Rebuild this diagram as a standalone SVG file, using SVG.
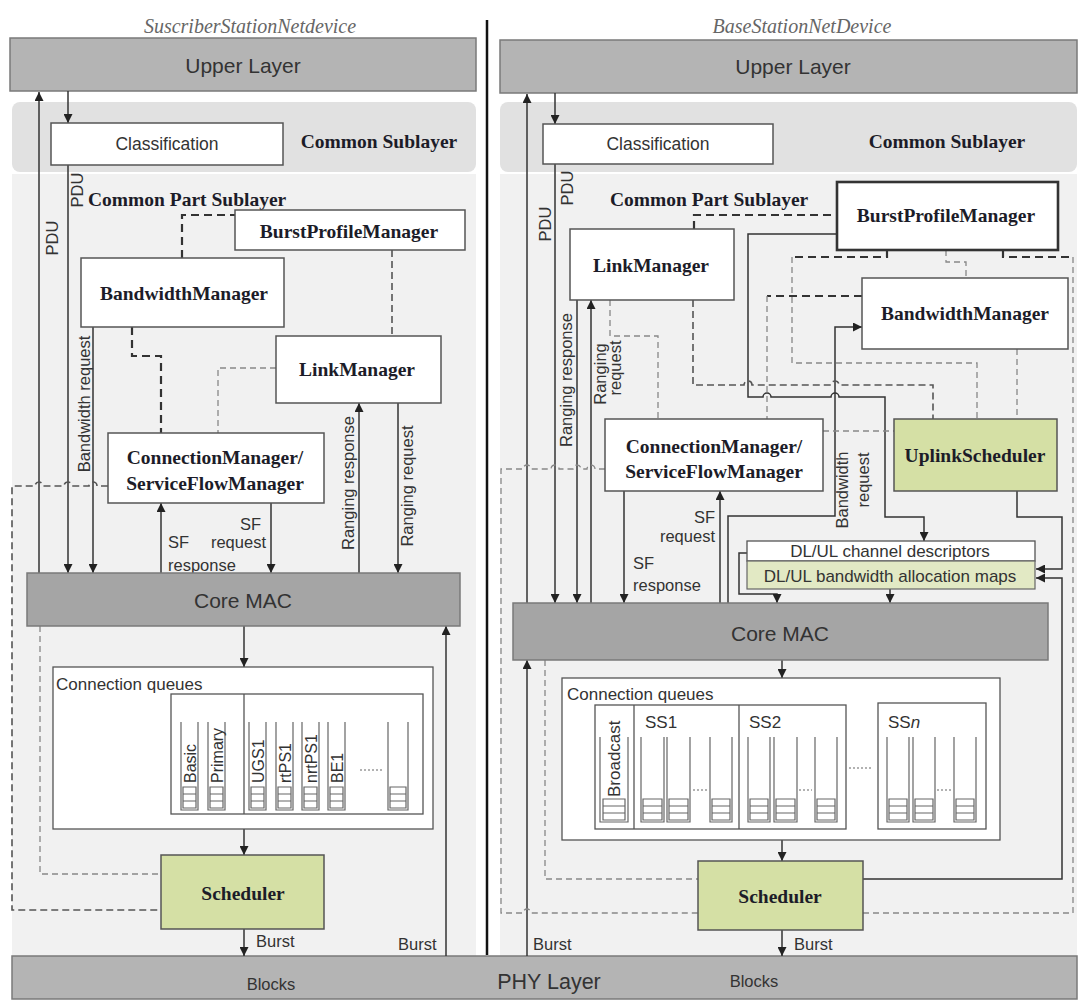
<svg xmlns="http://www.w3.org/2000/svg" width="1079" height="1001" viewBox="0 0 1079 1001">
<style>
.bg{fill:#f1f1f1}
.band{fill:#e1e1e1}
.layer{fill:#b4b4b4;stroke:#7a7a7a;stroke-width:1.5}
.core{fill:#a5a5a5;stroke:#7a7a7a;stroke-width:1.5}
.box{fill:#fff;stroke:#555;stroke-width:1.5}
.thick{fill:#fff;stroke:#333;stroke-width:2.6}
.green{fill:#d5e0a5;stroke:#555;stroke-width:1.5}
.pale{fill:#e2e9c4;stroke:#666;stroke-width:1.2}
.frame{fill:#fff;stroke:#555;stroke-width:1.3}
.q{fill:none;stroke:#666;stroke-width:1.2}
.b{font-family:"Liberation Serif","Times New Roman",serif;font-weight:bold;font-size:19.5px;fill:#1c1c28;text-anchor:middle;dominant-baseline:central}
.b.start{text-anchor:start}
.s{font-family:"Liberation Sans",Arial,sans-serif;fill:#333;dominant-baseline:central}
.big{font-size:21px;text-anchor:middle}
.mid{font-size:17.5px;text-anchor:middle}
.sm{font-size:17px}
.lbl{font-size:16.5px}
.ql{font-size:16px}
.ttl{font-family:"Liberation Serif","Times New Roman",serif;font-style:italic;font-size:20px;fill:#666;text-anchor:middle;dominant-baseline:central}
.ln{fill:none;stroke:#333;stroke-width:1.5}
.ar{marker-end:url(#ah)}
.dh{fill:none;stroke:#333;stroke-width:2.2;stroke-dasharray:8 5}
.dm{fill:none;stroke:#555;stroke-width:1.6;stroke-dasharray:7 4}
.dl{fill:none;stroke:#888;stroke-width:1.3;stroke-dasharray:6 4}
.dots{fill:none;stroke:#666;stroke-width:1.2;stroke-dasharray:2 2}
</style>
<defs>
<marker id="ah" viewBox="0 0 10 10" refX="10" refY="5" markerWidth="9" markerHeight="9" markerUnits="userSpaceOnUse" orient="auto"><path d="M0,0 L10,5 L0,10 z" fill="#222"/></marker>
</defs>

<!-- panel backgrounds -->
<rect x="0" y="0" width="1079" height="1001" fill="#fff"/>
<rect class="bg" x="12" y="174" width="464" height="782"/>
<rect class="bg" x="500" y="174" width="577" height="782"/>
<rect class="band" x="12" y="102" width="464" height="70" rx="8"/>
<rect class="band" x="500" y="102" width="577" height="70" rx="8"/>

<!-- device titles -->
<text class="ttl" x="250" y="26">SuscriberStationNetdevice</text>
<text class="ttl" x="802" y="26">BaseStationNetDevice</text>

<!-- layer bands -->
<g id="ss-upper"><rect class="layer" x="10" y="38" width="466" height="53"/><text class="s big" x="243" y="65">Upper Layer</text></g>
<g id="bs-upper"><rect class="layer" x="500" y="40" width="577" height="53"/><text class="s big" x="793" y="66">Upper Layer</text></g>
<g id="phy"><rect class="layer" x="12" y="956" width="1065" height="43"/>
<text class="s big" x="549" y="982" style="font-size:21.5px">PHY Layer</text>
<text class="s lbl" x="271" y="984" text-anchor="middle">Blocks</text>
<text class="s lbl" x="754" y="981" text-anchor="middle">Blocks</text></g>

<line x1="487" y1="20" x2="487" y2="955" stroke="#111" stroke-width="2.5"/>

<!-- sublayer captions -->
<text class="b" x="379" y="141">Common Sublayer</text>
<text class="b" x="947" y="141">Common Sublayer</text>
<text class="b start" x="88" y="199">Common Part Sublayer</text>
<text class="b start" x="610" y="199">Common Part Sublayer</text>

<!-- connectors -->
<g id="connectors">
  <!-- subscriber station -->
  <path class="ln ar" d="M39,573 V92"/>
  <path class="ln ar" d="M68,91 V123"/>
  <path class="ln ar" d="M68,165 V573"/>
  <path class="ln ar" d="M93,327 V573"/>
  <path class="ln ar" d="M161,573 V503"/>
  <path class="ln ar" d="M271,503 V573"/>
  <path class="ln ar" d="M359,573 V403"/>
  <path class="ln ar" d="M398,403 V573"/>
  <path class="ln ar" d="M244,626 V667"/>
  <path class="ln ar" d="M244,829 V855"/>
  <path class="ln ar" d="M244,929 V956"/>
  <path class="ln ar" d="M446,956 V626"/>
  <path class="dh" d="M182,258 V215 H235"/>
  <path class="dm" d="M392,250 V336"/>
  <path class="dh" d="M132,327 V356 H161 V433"/>
  <path class="dl" d="M276,368 H218 V433"/>
  <path class="dm" d="M108,486 H97 a4,4 0 0 0 -8,0 H72 a4,4 0 0 0 -8,0 H43 a4,4 0 0 0 -8,0 H12 V910 H161"/>
  <path class="dl" d="M40,626 V874 H161"/>

  <!-- base station -->
  <path class="ln ar" d="M527,603 V94"/>
  <path class="ln ar" d="M555,93 V124"/>
  <path class="ln ar" d="M555,164 V603"/>
  <path class="ln ar" d="M577,300 V603"/>
  <path class="ln ar" d="M591,603 V300"/>
  <path class="ln ar" d="M624,491 V603"/>
  <path class="ln ar" d="M720,603 V491"/>
  <path class="ln ar" d="M728,603 V516 H835 V327 H862"/>
  <path class="ln ar" d="M837,234 H748 V397 H763 a4,4 0 0 1 8,0 H831 a4,4 0 0 1 8,0 H885 V517 H924 V541"/>
  <path class="ln ar" d="M747,553 H739 V594 H777 V603"/>
  <path class="ln ar" d="M890,589 V603"/>
  <path class="ln ar" d="M1017,491 V517 H1062 V569 H1036"/>
  <path class="ln ar" d="M863,879 H1062 V578 H1036"/>
  <path class="ln ar" d="M782,660 V678"/>
  <path class="ln ar" d="M782,840 V861"/>
  <path class="ln ar" d="M782,930 V956"/>
  <path class="ln ar" d="M527,956 V660"/>
  <path class="dh" d="M694,229 V215 H837"/>
  <path class="dh" d="M887,250 V257 H792"/>
  <path class="dl" d="M792,257 V363 H977 V419"/>
  <path class="dm" d="M693,300 V385 H744 a4,4 0 0 1 8,0 H831 a4,4 0 0 1 8,0 H933 V419"/>
  <path class="dh" d="M862,296 H767"/>
  <path class="dl" d="M767,296 V419"/>
  <path class="dl" d="M610,300 V336 H658 V419"/>
  <path class="dl" d="M823,431 H894"/>
  <path class="dl" d="M946,250 V262 H966 V278"/>
  <path class="dl" d="M1017,349 V419"/>
  <path class="dh" d="M1003,250 V257 H1073"/>
  <path class="dl" d="M1073,257 V913 H863"/>
  <path class="dl" d="M605,469 H595 a4,4 0 0 0 -8,0 H581 a4,4 0 0 0 -8,0 H559 a4,4 0 0 0 -8,0 H531 a4,4 0 0 0 -8,0 H501 V913 H523 a4,4 0 0 1 8,0 H698"/>
  <path class="dl" d="M545,660 V879 H698"/>
</g>

<!-- connector labels -->
<g id="labels" class="s lbl">
  <text transform="translate(52,238) rotate(-90)" text-anchor="middle">PDU</text>
  <text transform="translate(77,190) rotate(-90)" text-anchor="middle">PDU</text>
  <text transform="translate(84,404) rotate(-90)" text-anchor="middle">Bandwidth request</text>
  <text transform="translate(348,483) rotate(-90)" text-anchor="middle">Ranging response</text>
  <text transform="translate(407,486) rotate(-90)" text-anchor="middle">Ranging request</text>
  <text x="261" y="524" text-anchor="end">SF</text>
  <text x="266" y="542" text-anchor="end">request</text>
  <text x="168" y="542">SF</text>
  <text x="168" y="565">response</text>
  <text x="256" y="941">Burst</text>
  <text x="398" y="944">Burst</text>

  <text transform="translate(545,224) rotate(-90)" text-anchor="middle">PDU</text>
  <text transform="translate(567,188) rotate(-90)" text-anchor="middle">PDU</text>
  <text transform="translate(566,380) rotate(-90)" text-anchor="middle">Ranging response</text>
  <text transform="translate(600,374) rotate(-90)" text-anchor="middle">Ranging</text>
  <text transform="translate(615,368) rotate(-90)" text-anchor="middle">request</text>
  <text x="715" y="517" text-anchor="end">SF</text>
  <text x="715" y="536" text-anchor="end">request</text>
  <text x="633" y="563">SF</text>
  <text x="633" y="585">response</text>
  <text transform="translate(842,490) rotate(-90)" text-anchor="middle">Bandwidth</text>
  <text transform="translate(863,480) rotate(-90)" text-anchor="middle">request</text>
  <text x="533" y="944">Burst</text>
  <text x="794" y="944">Burst</text>
</g>

<!-- subscriber station nodes -->
<g id="ss-classification"><rect class="box" x="51" y="123" width="232" height="42"/><text class="s mid" x="167" y="144">Classification</text></g>
<g id="ss-burst-profile-manager"><rect class="box" x="235" y="210" width="230" height="40"/><text class="b" x="349" y="231">BurstProfileManager</text></g>
<g id="ss-bandwidth-manager"><rect class="box" x="81" y="258" width="203" height="69"/><text class="b" x="184" y="293">BandwidthManager</text></g>
<g id="ss-link-manager"><rect class="box" x="276" y="336" width="165" height="67"/><text class="b" x="357" y="369">LinkManager</text></g>
<g id="ss-connection-manager"><rect class="box" x="108" y="433" width="216" height="70"/><text class="b" x="215" y="457">ConnectionManager/</text><text class="b" x="215" y="483">ServiceFlowManager</text></g>
<g id="ss-core-mac"><rect class="core" x="27" y="573" width="433" height="53"/><text class="s big" x="243" y="600">Core MAC</text></g>
<g id="ss-connection-queues">
  <rect class="frame" x="53" y="667" width="380" height="162"/>
  <text class="s sm" x="56" y="684">Connection queues</text>
  <rect class="frame" x="171" y="694" width="252" height="120"/>
  <line x1="244" y1="694" x2="244" y2="814" stroke="#555" stroke-width="1.3"/>
  <path class="q" d="M181,722V810H198V722 M208,722V810H225V722 M249,722V810H266V722 M276,722V810H293V722 M302,722V810H319V722 M328,722V810H345V722 M388,722V810H408V722"/>
  <path class="q" d="M183,787h13v21h-13z M183,794h13 M183,801h13 M210,787h13v21h-13z M210,794h13 M210,801h13 M251,787h13v21h-13z M251,794h13 M251,801h13 M278,787h13v21h-13z M278,794h13 M278,801h13 M304,787h13v21h-13z M304,794h13 M304,801h13 M330,787h13v21h-13z M330,794h13 M330,801h13 M390,787h16v21h-16z M390,794h16 M390,801h16"/>
  <path class="dots" d="M360,770 H384"/>
  <g class="s ql">
    <text transform="translate(190,783) rotate(-90)">Basic</text>
    <text transform="translate(217,783) rotate(-90)">Primary</text>
    <text transform="translate(258,783) rotate(-90)">UGS1</text>
    <text transform="translate(285,783) rotate(-90)">rtPS1</text>
    <text transform="translate(311,783) rotate(-90)">nrtPS1</text>
    <text transform="translate(337,783) rotate(-90)">BE1</text>
  </g>
</g>
<g id="ss-scheduler"><rect class="green" x="161" y="855" width="163" height="74"/><text class="b" x="243" y="893">Scheduler</text></g>

<!-- base station nodes -->
<g id="bs-classification"><rect class="box" x="543" y="124" width="230" height="40"/><text class="s mid" x="658" y="144">Classification</text></g>
<g id="bs-burst-profile-manager"><rect class="thick" x="837" y="182" width="221" height="68"/><text class="b" x="946" y="215">BurstProfileManager</text></g>
<g id="bs-link-manager"><rect class="box" x="570" y="229" width="164" height="71"/><text class="b" x="651" y="265">LinkManager</text></g>
<g id="bs-bandwidth-manager"><rect class="box" x="862" y="278" width="206" height="71"/><text class="b" x="965" y="313">BandwidthManager</text></g>
<g id="bs-connection-manager"><rect class="box" x="605" y="419" width="218" height="72"/><text class="b" x="714" y="446">ConnectionManager/</text><text class="b" x="714" y="471">ServiceFlowManager</text></g>
<g id="bs-uplink-scheduler"><rect class="green" x="894" y="419" width="163" height="72"/><text class="b" x="975" y="455">UplinkScheduler</text></g>
<g id="bs-channel-descriptors"><rect class="frame" x="747" y="541" width="288" height="20"/><text class="s sm" x="890" y="551" text-anchor="middle">DL/UL channel descriptors</text></g>
<g id="bs-allocation-maps"><rect class="pale" x="747" y="561" width="288" height="28"/><text class="s sm" x="890" y="576" text-anchor="middle">DL/UL bandwidth allocation maps</text></g>
<g id="bs-core-mac"><rect class="core" x="513" y="603" width="535" height="57"/><text class="s big" x="780" y="633">Core MAC</text></g>
<g id="bs-connection-queues">
  <rect class="frame" x="562" y="678" width="438" height="162"/>
  <text class="s sm" x="567" y="694">Connection queues</text>
  <rect class="frame" x="595" y="705" width="251" height="124"/>
  <line x1="634" y1="705" x2="634" y2="829" stroke="#555" stroke-width="1.3"/>
  <line x1="739" y1="705" x2="739" y2="829" stroke="#555" stroke-width="1.3"/>
  <rect class="frame" x="878" y="703" width="108" height="126"/>
  <path class="q" d="M600,737V822H628V737 M641,737V822H664V737 M667,737V822H690V737 M710,737V822H732V737 M748,737V822H770V737 M774,737V822H797V737 M815,737V822H837V737 M887,737V822H909V737 M913,737V822H935V737 M954,737V822H976V737"/>
  <path class="q" d="M603,799h22v21h-22z M603,806h22 M603,813h22 M643,799h19v21h-19z M643,806h19 M643,813h19 M669,799h19v21h-19z M669,806h19 M669,813h19 M712,799h18v21h-18z M712,806h18 M712,813h18 M750,799h18v21h-18z M750,806h18 M750,813h18 M776,799h19v21h-19z M776,806h19 M776,813h19 M817,799h18v21h-18z M817,806h18 M817,813h18 M889,799h18v21h-18z M889,806h18 M889,813h18 M915,799h18v21h-18z M915,806h18 M915,813h18 M956,799h18v21h-18z M956,806h18 M956,813h18"/>
  <path class="dots" d="M693,790 H707 M799,790 H812 M937,790 H951 M849,768 H873"/>
  <g class="s sm">
    <text transform="translate(614,797) rotate(-90)">Broadcast</text>
    <text x="645" y="722">SS1</text>
    <text x="749" y="722">SS2</text>
    <text x="888" y="722">SS<tspan font-style="italic">n</tspan></text>
  </g>
</g>
<g id="bs-scheduler"><rect class="green" x="698" y="861" width="165" height="69"/><text class="b" x="780" y="896">Scheduler</text></g>
</svg>
